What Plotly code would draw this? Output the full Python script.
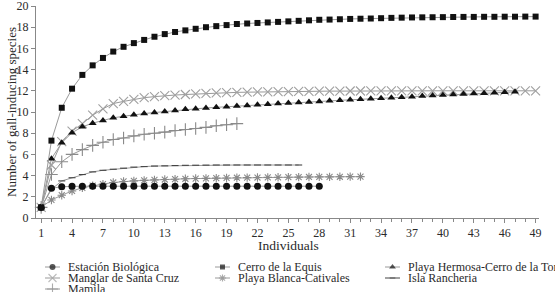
import plotly.graph_objects as go

# ---------------- data ----------------
series_names = [
    "Estación Biológica",
    "Cerro de la Equis",
    "Playa Hermosa-Cerro de la Torre",
    "Manglar de Santa Cruz",
    "Playa Blanca-Cativales",
    "Isla Rancheria",
    "Mamila",
]

estacion = [1, 2.8, 2.95, 3.0, 3.0, 3.0, 3.0, 3.0, 3.0, 3.0, 3.0, 3.0, 3.0, 3.0,
            3.0, 3.0, 3.0, 3.0, 3.0, 3.0, 3.0, 3.0, 3.0, 3.0, 3.0, 3.0, 3.0, 3.0]
cerro = [1, 7.3, 10.4, 12.2, 13.5, 14.4, 15.1, 15.7, 16.15, 16.5,
         16.8, 17.1, 17.35, 17.55, 17.7, 17.85, 18.0, 18.1, 18.2, 18.3,
         18.35, 18.4, 18.45, 18.5, 18.55, 18.6, 18.65, 18.7, 18.72, 18.75,
         18.78, 18.8, 18.82, 18.85, 18.88, 18.9, 18.92, 18.93, 18.94, 18.95,
         18.96, 18.97, 18.97, 18.98, 18.98, 18.99, 18.99, 19.0, 19.0]
hermosa = [1, 5.6, 7.1, 8.05, 8.6, 8.95, 9.2, 9.45, 9.6, 9.75,
           9.85, 9.95, 10.05, 10.15, 10.25, 10.3, 10.38, 10.44, 10.5, 10.56,
           10.62, 10.68, 10.74, 10.8, 10.85, 10.9, 10.95, 11.0, 11.05, 11.1,
           11.15, 11.2, 11.25, 11.3, 11.35, 11.4, 11.45, 11.5, 11.55, 11.6,
           11.65, 11.7, 11.74, 11.78, 11.82, 11.86, 11.9]
manglar = [1, 5.0, 7.2, 8.2, 8.9, 9.7, 10.3, 10.8, 11.0, 11.2,
           11.35, 11.45, 11.55, 11.6, 11.65, 11.7, 11.75, 11.8, 11.82, 11.85,
           11.87, 11.89, 11.9, 11.92, 11.93, 11.94, 11.95, 11.96, 11.97, 11.97,
           11.98, 11.98, 11.99, 11.99, 12.0, 12.0, 12.0, 12.0, 12.0, 12.0,
           12.0, 12.0, 12.0, 12.0, 12.0, 12.0, 12.0, 12.0, 12.0]
blanca = [1, 1.7, 2.15, 2.55, 2.85, 3.05, 3.2, 3.35, 3.45, 3.5,
          3.55, 3.6, 3.63, 3.66, 3.7, 3.72, 3.74, 3.76, 3.78, 3.8,
          3.81, 3.82, 3.83, 3.84, 3.85, 3.86, 3.87, 3.88, 3.88, 3.89,
          3.9, 3.9]
rancheria = [1, 2.7, 3.5, 3.8, 4.1, 4.35, 4.5, 4.6, 4.7, 4.8,
             4.85, 4.9, 4.92, 4.95, 4.97, 4.98, 4.99, 5.0, 5.0, 5.0,
             5.0, 5.0, 5.0, 5.0, 5.0, 5.0]
mamila = [1, 4.1, 5.3, 6.0, 6.45, 6.85, 7.15, 7.4, 7.55, 7.75,
          7.9, 8.0, 8.1, 8.25, 8.35, 8.45, 8.55, 8.7, 8.8, 8.9]

x_tick_labels = [str(v) for v in range(1, 50, 3)]
y_tick_labels = [str(v) for v in range(0, 21, 2)]

# ---------------- styles ----------------
W, H = 555, 292
LINE = "#9a9a9a"
FONT = "Liberation Serif"
TXT = "#2a2a2a"

styles = {
    "Manglar de Santa Cruz": dict(symbol="x-thin", size=9, color="#a0a0a0", lw=1.1),
    "Playa Blanca-Cativales": dict(symbol="asterisk", size=7, color="#8a8a8a", lw=1.1),
    "Mamila": dict(symbol="cross-thin", size=9, color="#8a8a8a", lw=1.1),
    "Isla Rancheria": dict(symbol="line-ew", size=5, color="#444444", lw=1.1),
    "Estación Biológica": dict(symbol="circle", size=7, color="#111111", lw=0),
    "Playa Hermosa-Cerro de la Torre": dict(symbol="triangle-up", size=7, color="#111111", lw=0),
    "Cerro de la Equis": dict(symbol="square", size=6, color="#111111", lw=0),
}
data = {
    "Estación Biológica": estacion,
    "Cerro de la Equis": cerro,
    "Playa Hermosa-Cerro de la Torre": hermosa,
    "Manglar de Santa Cruz": manglar,
    "Playa Blanca-Cativales": blanca,
    "Isla Rancheria": rancheria,
    "Mamila": mamila,
}

fig = go.Figure()
draw_order = ["Manglar de Santa Cruz", "Playa Blanca-Cativales", "Mamila",
              "Isla Rancheria", "Estación Biológica",
              "Playa Hermosa-Cerro de la Torre", "Cerro de la Equis"]
for name in draw_order:
    vals = data[name]
    st = styles[name]
    fig.add_trace(go.Scatter(
        x=list(range(1, len(vals) + 1)), y=vals, mode="lines+markers", name=name,
        line=dict(color=LINE, width=1),
        marker=dict(symbol=st["symbol"], size=st["size"], color=st["color"],
                    line=dict(color=st["color"], width=st["lw"])),
        showlegend=False, xaxis="x", yaxis="y", cliponaxis=False,
    ))

# ---------------- manual legend (pixel coordinate overlay axes) ----------------
leg_cols = [45, 215, 385]      # left of key line
leg_rows = [267, 278, 289]     # centre of row
key_len = 15
text_gap = 6
for i, name in enumerate(series_names):
    r, c = divmod(i, 3)
    x0 = leg_cols[c]
    y0 = leg_rows[r]
    st = styles[name]
    fig.add_trace(go.Scatter(
        x=[x0, x0 + key_len / 2, x0 + key_len], y=[y0, y0, y0],
        mode="lines+markers", xaxis="x2", yaxis="y2", showlegend=False,
        hoverinfo="skip", cliponaxis=False,
        line=dict(color=LINE if name != "Isla Rancheria" else "#444444", width=1),
        marker=dict(symbol=st["symbol"], size=[0, st["size"] - 1, 0], color=st["color"],
                    line=dict(color=st["color"], width=st["lw"])),
    ))
    fig.add_annotation(x=x0 + key_len + text_gap, y=y0, xref="x2", yref="y2",
                       text=name, showarrow=False, xanchor="left", yanchor="middle",
                       font=dict(family=FONT, size=12, color=TXT))

# axis titles
fig.add_annotation(x=288, y=245, xref="x2", yref="y2", text="Individuals",
                   showarrow=False, xanchor="center", yanchor="middle",
                   font=dict(family=FONT, size=13.5, color=TXT))
fig.add_annotation(x=11, y=112, xref="x2", yref="y2", text="Number of gall-inducing species",
                   showarrow=False, xanchor="center", yanchor="middle", textangle=-90,
                   font=dict(family=FONT, size=13, color=TXT))

fig.update_layout(
    width=W, height=H,
    margin=dict(l=0, r=0, t=0, b=0),
    paper_bgcolor="white", plot_bgcolor="rgba(0,0,0,0)",
    font=dict(family=FONT, size=12, color=TXT),
    xaxis=dict(domain=[36 / W, 539 / W], range=[0.5, 49.33], anchor="y",
               tickmode="array", tickvals=list(range(1, 50, 3)), ticktext=x_tick_labels,
               ticks="outside", ticklen=4, tickcolor="#888888",
               minor=dict(ticks="outside", tickmode="linear", tick0=1, dtick=1,
                          ticklen=3, tickcolor="#888888"),
               showline=True, linecolor="#888888", linewidth=1,
               showgrid=False, zeroline=False, automargin=False,
               ticklabeloverflow="allow", ticklabelstandoff=0,
               tickfont=dict(family=FONT, size=12, color=TXT)),
    yaxis=dict(domain=[74 / H, 286 / H], range=[0, 20], anchor="x",
               tickmode="array", tickvals=list(range(0, 21, 2)), ticktext=y_tick_labels,
               ticks="outside", ticklen=4, tickcolor="#888888",
               showline=True, linecolor="#888888", linewidth=1,
               showgrid=False, zeroline=False, automargin=False,
               ticklabeloverflow="allow",
               tickfont=dict(family=FONT, size=12, color=TXT)),
    xaxis2=dict(domain=[0, 1], range=[0, W], anchor="y2", visible=False, fixedrange=True),
    yaxis2=dict(domain=[0, 1], range=[H, 0], anchor="x2", visible=False, fixedrange=True),
)

fig.write_html("out.html")
